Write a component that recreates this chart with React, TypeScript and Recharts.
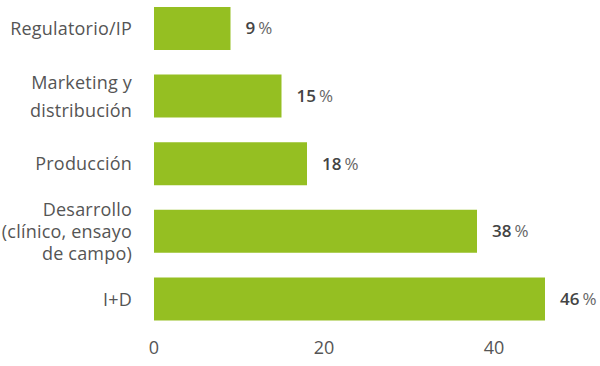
import React from 'react';
import { BarChart, Bar, XAxis, YAxis, LabelList } from 'recharts';

const categories = [
  'Regulatorio/IP',
  'Marketing y distribución',
  'Producción',
  'Desarrollo (clínico, ensayo de campo)',
  'I+D',
];
const categoryLines = [
  ['Regulatorio/IP'],
  ['Marketing y', 'distribución'],
  ['Producción'],
  ['Desarrollo', '(clínico, ensayo', 'de campo)'],
  ['I+D'],
];
const values = [9, 15, 18, 38, 46];
const xTicks = [0, 20, 40];

const data = categories.map((name, i) => ({ name, value: values[i] }));

const FONT = '"Open Sans", Lato, sans-serif';
const GREEN = '#95bf22';

const CategoryTick = (props: any) => {
  const { x, y, payload } = props;
  const idx = categories.indexOf(payload.value);
  const lines = categoryLines[idx] || [payload.value];
  const step = lines.length === 2 ? 28 : 22;
  const start = -((lines.length - 1) * step) / 2;
  const tx = x - 14;
  return (
    <text x={tx} y={y} textAnchor="end" fill="#555" fontSize={18} letterSpacing={0.2} fontFamily={FONT}>
      {lines.map((line, i) => (
        <tspan key={i} x={tx} y={y + start + i * step} dy="0.35em">
          {line}
        </tspan>
      ))}
    </text>
  );
};

const ValueLabel = (props: any) => {
  const { x, y, width, height, value } = props;
  return (
    <text x={x + width + 15} y={y + height / 2} dy="0.35em" fontSize={17} fontFamily={FONT}>
      <tspan fill="#444" fontWeight={600}>{value}</tspan>
      <tspan fill="#666" dx={3}>%</tspan>
    </text>
  );
};

export default function App() {
  return (
    <div style={{ position: 'absolute', left: 0, top: 0, background: '#fff' }}>
      <BarChart
        width={600}
        height={366}
        data={data}
        layout="vertical"
        margin={{ top: -5, right: 21, left: 0, bottom: 3 }}
      >
        <XAxis
          type="number"
          domain={[0, 50]}
          ticks={xTicks}
          axisLine={false}
          tickLine={false}
          tick={{ fill: '#555', fontSize: 18, fontFamily: FONT }}
          height={30}
        />
        <YAxis
          type="category"
          dataKey="name"
          width={154}
          axisLine={false}
          tickLine={false}
          tick={<CategoryTick />}
          interval={0}
        />
        <Bar dataKey="value" fill={GREEN} barSize={43} isAnimationActive={false}>
          <LabelList dataKey="value" content={<ValueLabel />} />
        </Bar>
      </BarChart>
    </div>
  );
}
